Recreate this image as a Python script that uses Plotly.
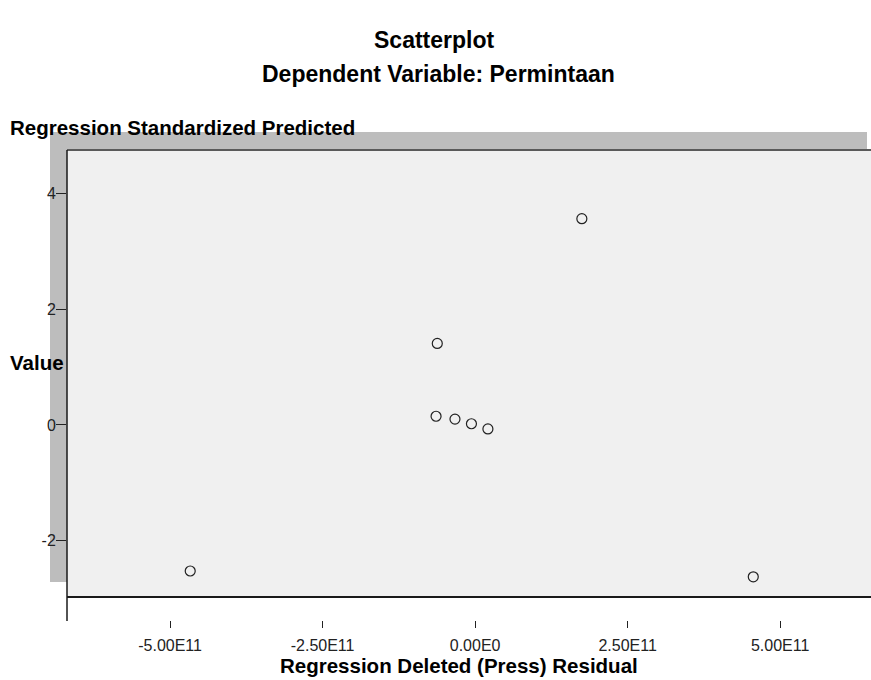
import plotly.graph_objects as go

# Data
press_residual = [-4.67e11, 4.56e11, 1.75e11, -0.62e11, -0.64e11, -0.33e11, -0.06e11, 0.21e11]
std_predicted = [-2.53, -2.63, 3.57, 1.41, 0.15, 0.10, 0.02, -0.07]

x_tickvals = [-5.0e11, -2.5e11, 0.0, 2.5e11, 5.0e11]
x_ticktext = ["-5.00E11", "-2.50E11", "0.00E0", "2.50E11", "5.00E11"]
y_tickvals = [-2, 0, 2, 4]
y_ticktext = ["-2", "0", "2", "4"]

W, H = 871, 680
# target pixel positions
P_LEFT, P_TOP, P_BOTTOM, P_AXIS = 67, 150, 597, 628
L = P_LEFT
T = P_TOP
B = H - P_AXIS
R = 0
AREA_H = H - T - B
AREA_W = W - L - R
y_dom0 = (P_AXIS - P_BOTTOM) / AREA_H


def px(xp):
    return (xp - P_LEFT) / AREA_W


def py(yp):
    return (P_AXIS - yp) / AREA_H


FONT = "Liberation Sans, Arial, sans-serif"

fig = go.Figure()
fig.add_trace(go.Scatter(
    x=press_residual, y=std_predicted, mode="markers",
    marker=dict(symbol="circle-open", size=10, color="#222222", line=dict(width=1.2, color="#222222")),
    showlegend=False, hoverinfo="x+y",
))

shapes = [
    # drop shadow
    dict(type="rect", xref="paper", yref="paper", x0=px(50), x1=px(867), y0=py(582), y1=py(132),
         fillcolor="#bdbdbd", line=dict(width=0), layer="below"),
    # plot background
    dict(type="rect", xref="paper", yref="paper", x0=px(67), x1=px(875), y0=py(597), y1=py(150),
         fillcolor="#f0f0f0", line=dict(width=0), layer="below"),
    # top border
    dict(type="line", xref="paper", yref="paper", x0=px(67), x1=px(875), y0=py(150), y1=py(150),
         line=dict(color="#5a5a5a", width=2)),
    # bottom border
    dict(type="line", xref="paper", yref="paper", x0=px(67), x1=px(875), y0=py(597), y1=py(597),
         line=dict(color="#1a1a1a", width=2)),
    # left axis line extended
    dict(type="line", xref="paper", yref="paper", x0=px(67), x1=px(67), y0=py(621), y1=py(150),
         line=dict(color="#1a1a1a", width=1.5)),
]

annotations = [
    dict(text="<b>Scatterplot</b>", xref="paper", yref="paper", x=px(434), y=py(40),
         xanchor="center", yanchor="middle", showarrow=False, font=dict(size=23, color="#000", family=FONT)),
    dict(text="<b>Dependent Variable: Permintaan</b>", xref="paper", yref="paper", x=px(438), y=py(74),
         xanchor="center", yanchor="middle", showarrow=False, font=dict(size=23, color="#000", family=FONT)),
    dict(text="<b>Regression Standardized Predicted</b>", xref="paper", yref="paper", x=px(8), y=py(127),
         xanchor="left", yanchor="middle", showarrow=False, font=dict(size=20.5, color="#000", family=FONT)),
    dict(text="<b>Value</b>", xref="paper", yref="paper", x=px(8), y=py(362),
         xanchor="left", yanchor="middle", showarrow=False, font=dict(size=20.5, color="#000", family=FONT)),
    dict(text="<b>Regression Deleted (Press) Residual</b>", xref="paper", yref="paper", x=px(459), y=py(665),
         xanchor="center", yanchor="middle", showarrow=False, font=dict(size=20.5, color="#000", family=FONT)),
]

fig.update_layout(
    width=W, height=H,
    margin=dict(l=L, r=R, t=T, b=B, pad=0),
    paper_bgcolor="white", plot_bgcolor="rgba(0,0,0,0)",
    font=dict(family=FONT, size=16, color="#222"),
    shapes=shapes, annotations=annotations,
    xaxis=dict(range=[-6.69e11, 6.49e11], domain=[0, 1], anchor="free", position=0,
               tickvals=x_tickvals, ticktext=x_ticktext, ticks="inside", ticklen=7, tickwidth=1,
               tickcolor="#222", showgrid=False, zeroline=False, showline=False,
               ticklabelstandoff=6,
               tickfont=dict(size=16, color="#222", family=FONT)),
    yaxis=dict(range=[-2.98, 4.76], domain=[y_dom0, 1], anchor="x",
               tickvals=y_tickvals, ticktext=y_ticktext, ticks="outside", ticklen=10, tickwidth=1,
               tickcolor="#222", showgrid=False, zeroline=False, showline=False,
               ticklabelstandoff=-3,
               tickfont=dict(size=16, color="#222", family=FONT)),
)

fig.write_html("out.html", config={"displayModeBar": False},
               post_script="document.body.style.margin='0';document.body.style.overflow='hidden';")
